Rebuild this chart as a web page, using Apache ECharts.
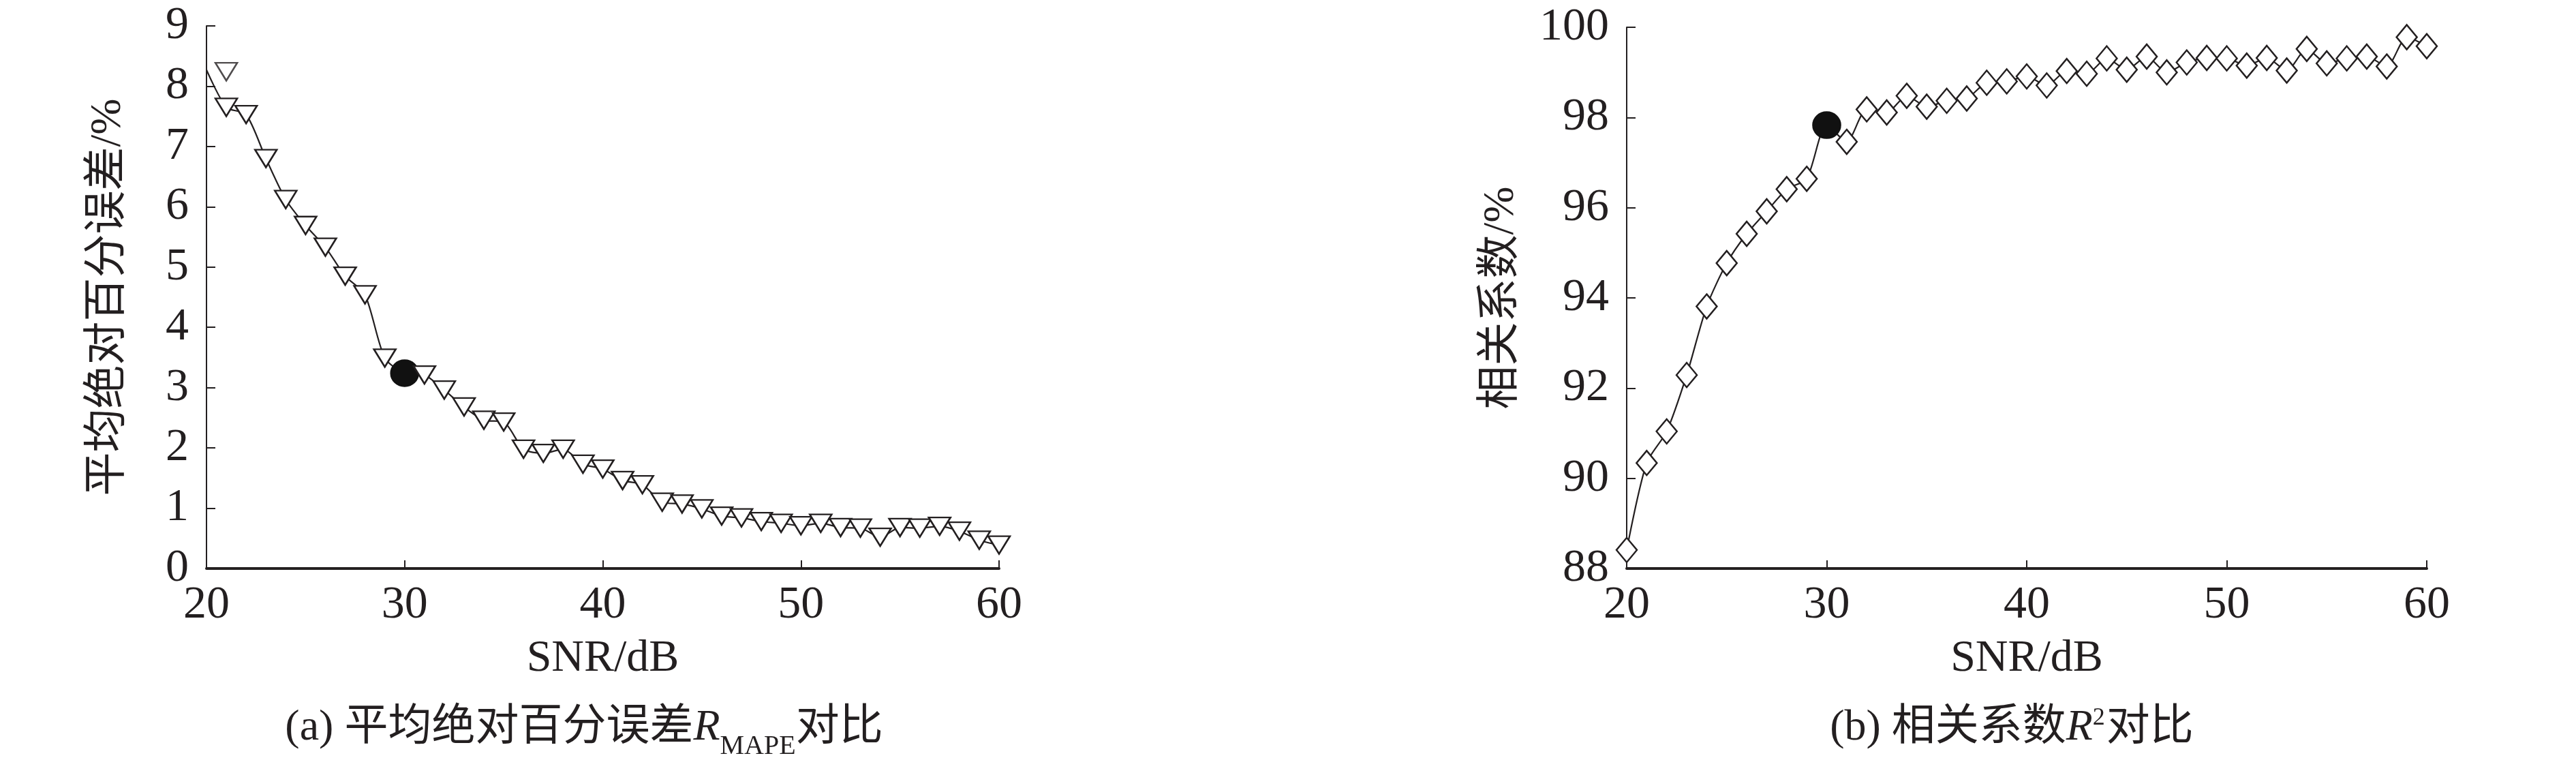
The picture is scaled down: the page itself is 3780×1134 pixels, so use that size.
<!DOCTYPE html>
<html>
<head>
<meta charset="utf-8">
<script src="https://cdn.jsdelivr.net/npm/echarts@6/dist/echarts.min.js"></script>
<style>
html, body { margin: 0; padding: 0; background: #fff; }
#main { width: 3780px; height: 1134px; }
</style>
</head>
<body>
<div id="main"></div>
<script>
// SNR steps (dB)
var snr = [20, 21, 22, 23, 24, 25, 26, 27, 28, 29,
	30, 31, 32, 33, 34, 35, 36, 37, 38, 39,
	40, 41, 42, 43, 44, 45, 46, 47, 48, 49,
	50, 51, 52, 53, 54, 55, 56, 57, 58, 59, 60];

// (a) mean absolute percentage error, %
var mapeValues = [8.27, 7.65, 7.53, 6.80, 6.12, 5.69, 5.33, 4.85, 4.54, 3.49,
	3.24, 3.21, 2.96, 2.68, 2.46, 2.43, 1.98, 1.91, 1.98, 1.73,
	1.65, 1.46, 1.39, 1.10, 1.07, 0.99, 0.87, 0.84, 0.78, 0.75,
	0.71, 0.75, 0.68, 0.67, 0.52, 0.68, 0.67, 0.70, 0.62, 0.47, 0.39];
// the triangle of the first point is drawn one step to the right
var mapeStray = [[21, 8.24]];

// (b) correlation coefficient, %
var r2Values = [88.41, 90.34, 91.04, 92.29, 93.81, 94.77, 95.42, 95.92, 96.41, 96.64,
	97.83, 97.46, 98.18, 98.11, 98.48, 98.24, 98.37, 98.42, 98.77, 98.80,
	98.91, 98.71, 99.03, 98.97, 99.31, 99.06, 99.35, 99.00, 99.22, 99.32,
	99.31, 99.15, 99.32, 99.04, 99.52, 99.20, 99.31, 99.35, 99.13, 99.78, 99.58];

var highlightSnr = 30;
var xRange = [20, 60, 10];
var mapeRange = [0, 9, 1];
var r2Range = [88, 100, 2];

var INK = '#231f20';
var NUM_FONT = '"Liberation Serif", "Times New Roman", serif';
var CJK_FONT = '"Liberation Serif", "Noto Sans CJK SC", serif';

function _buildData(values, firstNoSymbol) {
	var data = [];
	for (var i = 0; i < snr.length; i++) {
		var item = { value: [snr[i], values[i]] };
		if (snr[i] == highlightSnr) {
			item.symbol = 'circle';
			item.symbolSize = [40, 38];
			item.itemStyle = { color: '#111', borderColor: '#111' };
		}
		if (firstNoSymbol && i == 0) {
			item.symbol = 'none';
		}
		data.push(item);
	}
	return data;
}

function _xAxis(gridIndex) {
	return {
		type: 'value', gridIndex: gridIndex,
		min: xRange[0], max: xRange[1], interval: xRange[2],
		name: 'SNR/dB', nameLocation: 'middle', nameGap: 100,
		nameTextStyle: { color: INK, fontFamily: NUM_FONT, fontSize: 66 },
		axisLine: { lineStyle: { color: INK, width: 4 } },
		axisTick: { inside: true, length: 12, lineStyle: { color: INK, width: 2 } },
		axisLabel: { color: INK, fontFamily: NUM_FONT, fontSize: 68, margin: 20 },
		splitLine: { show: false }
	};
}

function _yAxis(gridIndex, range, name, gap) {
	return {
		type: 'value', gridIndex: gridIndex,
		min: range[0], max: range[1], interval: range[2],
		name: name, nameLocation: 'middle', nameGap: gap, nameRotate: 90,
		nameTextStyle: { color: INK, fontFamily: CJK_FONT, fontSize: 64 },
		axisLine: { show: true, lineStyle: { color: INK, width: 2 } },
		axisTick: { show: true, inside: true, length: 13, lineStyle: { color: INK, width: 2 } },
		axisLabel: { color: INK, fontFamily: NUM_FONT, fontSize: 68, margin: 26 },
		splitLine: { show: false }
	};
}

var markerStyle = { color: '#fff', borderColor: INK, borderWidth: 2.5 };

var option = {
	backgroundColor: '#fff',
	animation: false,
	grid: [
		{ left: 303, top: 38, width: 1163, height: 796 },
		{ left: 2387, top: 40, width: 1174, height: 794 }
	],
	xAxis: [_xAxis(0), _xAxis(1)],
	yAxis: [
		_yAxis(0, mapeRange, '平均绝对百分误差/%', 112),
		_yAxis(1, r2Range, '相关系数/%', 152)
	],
	series: [
		{
			type: 'line', xAxisIndex: 0, yAxisIndex: 0,
			data: _buildData(mapeValues, true),
			smooth: 0.25, clip: false,
			symbol: 'triangle', symbolRotate: 180, symbolSize: [32, 26],
			lineStyle: { color: INK, width: 2.2 },
			itemStyle: markerStyle
		},
		{
			type: 'scatter', xAxisIndex: 0, yAxisIndex: 0,
			data: mapeStray, clip: false,
			symbol: 'triangle', symbolRotate: 180, symbolSize: [32, 26],
			itemStyle: markerStyle
		},
		{
			type: 'line', xAxisIndex: 1, yAxisIndex: 1,
			data: _buildData(r2Values, false),
			smooth: 0.25, clip: false,
			symbol: 'diamond', symbolSize: [30, 36],
			lineStyle: { color: INK, width: 2.2 },
			itemStyle: markerStyle
		}
	],
	graphic: [
		{
			type: 'text', x: 857, y: 1068,
			style: {
				text: '(a) 平均绝对百分误差{i|R}{sub|MAPE}对比',
				fill: INK, font: '64px ' + CJK_FONT,
				align: 'center', verticalAlign: 'middle',
				rich: {
					i: { fontStyle: 'italic', fontSize: 64, fontFamily: NUM_FONT, fill: INK },
					sub: { fontSize: 40, fontFamily: NUM_FONT, lineHeight: 40, padding: [54, 0, 0, 0], fill: INK }
				}
			}
		},
		{
			type: 'text', x: 2952, y: 1068,
			style: {
				text: '(b) 相关系数{i|R}{sup|2}对比',
				fill: INK, font: '64px ' + CJK_FONT,
				align: 'center', verticalAlign: 'middle',
				rich: {
					i: { fontStyle: 'italic', fontSize: 64, fontFamily: NUM_FONT, fill: INK },
					sup: { fontSize: 36, fontFamily: NUM_FONT, lineHeight: 36, padding: [0, 2, 28, 0], fill: INK }
				}
			}
		}
	]
};

var myChart = echarts.init(document.getElementById('main'));
myChart.setOption(option);
</script>
</body>
</html>
